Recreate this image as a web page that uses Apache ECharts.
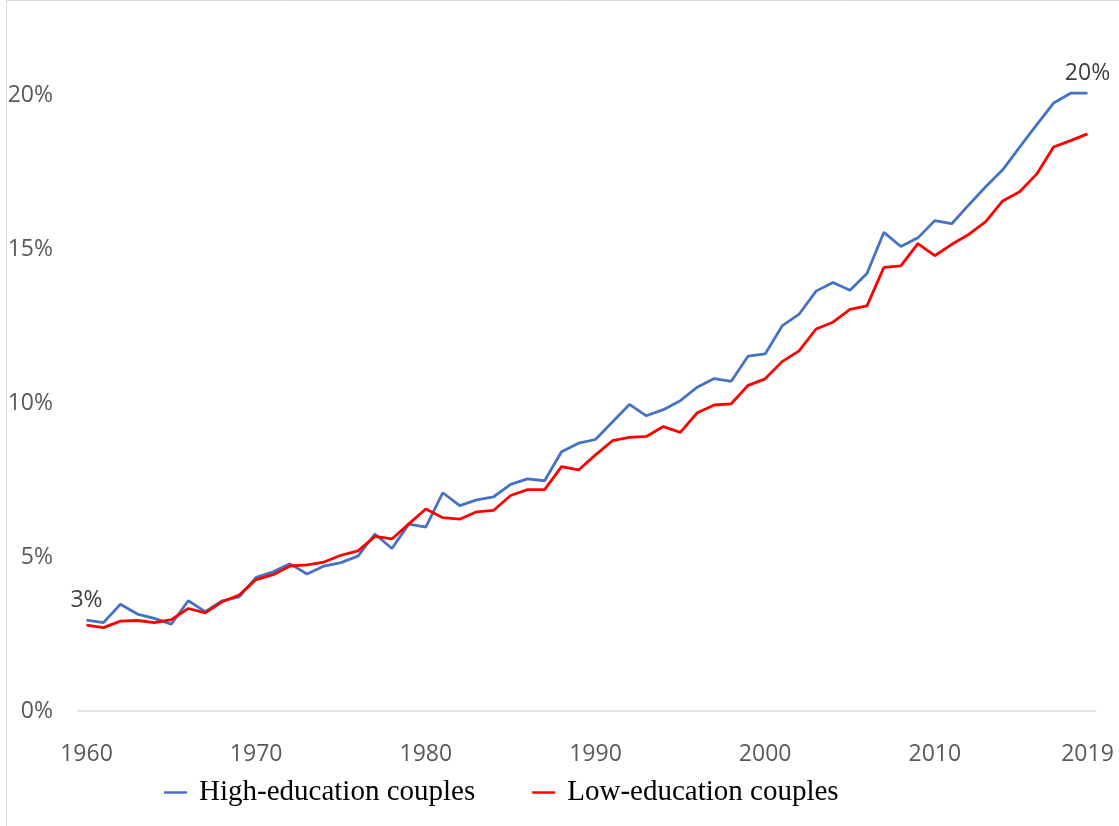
<!DOCTYPE html>
<html>
<head>
<meta charset="utf-8">
<script src="https://cdn.jsdelivr.net/npm/echarts@6/dist/echarts.min.js"></script>
<style>
  html, body { margin: 0; padding: 0; background: #fff; }
  #chart { width: 1119px; height: 826px; }
</style>
</head>
<body>
<div id="chart"></div>
<script>
  // years on the x axis
  const years = [
    '1960','1961','1962','1963','1964','1965','1966','1967','1968','1969',
    '1970','1971','1972','1973','1974','1975','1976','1977','1978','1979',
    '1980','1981','1982','1983','1984','1985','1986','1987','1988','1989',
    '1990','1991','1992','1993','1994','1995','1996','1997','1998','1999',
    '2000','2001','2002','2003','2004','2005','2006','2007','2008','2009',
    '2010','2011','2012','2013','2014','2015','2016','2017','2018','2019'
  ]
  const xTickYears = ['1960','1970','1980','1990','2000','2010','2019']
  const yTicks = [0, 5, 10, 15, 20]

  // share in %
  const highEdu = [
    2.95,2.87,3.47,3.15,3.01,2.82,3.58,3.23,3.58,3.71,
    4.34,4.52,4.78,4.45,4.71,4.82,5.03,5.75,5.28,6.07,
    5.97,7.09,6.67,6.86,6.96,7.36,7.54,7.48,8.42,8.70,
    8.82,9.39,9.96,9.59,9.79,10.08,10.52,10.80,10.71,11.53,
    11.60,12.51,12.89,13.64,13.92,13.67,14.21,15.55,15.09,15.37,
    15.93,15.83,16.44,17.03,17.58,18.32,19.04,19.75,20.07,20.07
  ]
  const lowEdu = [
    2.79,2.71,2.92,2.94,2.87,2.97,3.33,3.19,3.55,3.77,
    4.27,4.43,4.71,4.75,4.84,5.06,5.20,5.67,5.59,6.08,
    6.56,6.28,6.23,6.47,6.52,7.00,7.19,7.19,7.94,7.83,
    8.32,8.78,8.89,8.92,9.24,9.05,9.69,9.94,9.98,10.58,
    10.79,11.35,11.70,12.41,12.63,13.05,13.16,14.41,14.46,15.18,
    14.79,15.16,15.48,15.90,16.57,16.87,17.44,18.32,18.53,18.75
  ]
  // end-point annotations on the high-education line
  const firstLabel = '3%'
  const lastLabel = '20%'

  let dom = document.getElementById('chart')
  let myChart = echarts.init(dom)

  const tickFont = { fontFamily: 'Open Sans', fontSize: 23, color: '#595959' }
  const endLabel = text => ({
    show: true,
    position: 'top',
    distance: 8,
    formatter: text,
    fontFamily: 'Open Sans',
    fontSize: 23,
    color: '#404040'
  })

  let highData = highEdu.map((v, i) => {
    if (i === 0) return { value: v, label: endLabel(firstLabel) }
    if (i === highEdu.length - 1) return { value: v, label: endLabel(lastLabel) }
    return v
  })

  let option = {
    backgroundColor: '#fff',
    animation: false,
    graphic: [
      { type: 'line', shape: { x1: 6.5, y1: 0, x2: 6.5, y2: 826 }, style: { stroke: '#d9d9d9', lineWidth: 1 } },
      { type: 'line', shape: { x1: 6, y1: 0.5, x2: 1119, y2: 0.5 }, style: { stroke: '#d9d9d9', lineWidth: 1 } }
    ],
    legend: {
      data: ['High-education couples', 'Low-education couples'],
      left: 159,
      top: 773,
      icon: 'rect',
      itemWidth: 23,
      itemHeight: 2.5,
      itemGap: 57,
      textStyle: {
        fontFamily: 'Liberation Serif',
        fontSize: 29,
        color: '#000',
        padding: [0, 0, 0, 7]
      }
    },
    grid: {
      left: 78,
      right: 23,
      top: 3,
      bottom: 115,
      containLabel: false
    },
    xAxis: {
      type: 'category',
      boundaryGap: true,
      data: years,
      axisLine: { lineStyle: { color: '#d9d9d9', width: 1.5 } },
      axisTick: { show: false },
      axisLabel: Object.assign({
        margin: 32,
        interval: (i, v) => xTickYears.includes(v)
      }, tickFont),
      splitLine: { show: false }
    },
    yAxis: {
      type: 'value',
      min: 0,
      max: 23,
      interval: 5,
      axisLine: { show: false },
      axisTick: { show: false },
      splitLine: { show: false },
      axisLabel: Object.assign({
        margin: 25,
        formatter: v => yTicks.includes(v) ? v + '%' : ''
      }, tickFont)
    },
    series: [
      {
        name: 'High-education couples',
        type: 'line',
        data: highData,
        symbol: 'circle',
        symbolSize: 0,
        showSymbol: true,
        lineStyle: { color: '#4472C4', width: 2.8 },
        itemStyle: { color: '#4472C4' }
      },
      {
        name: 'Low-education couples',
        type: 'line',
        data: lowEdu,
        symbol: 'none',
        lineStyle: { color: '#FF0000', width: 2.8 },
        itemStyle: { color: '#FF0000' }
      }
    ]
  }

  myChart.setOption(option, true)
</script>
</body>
</html>
